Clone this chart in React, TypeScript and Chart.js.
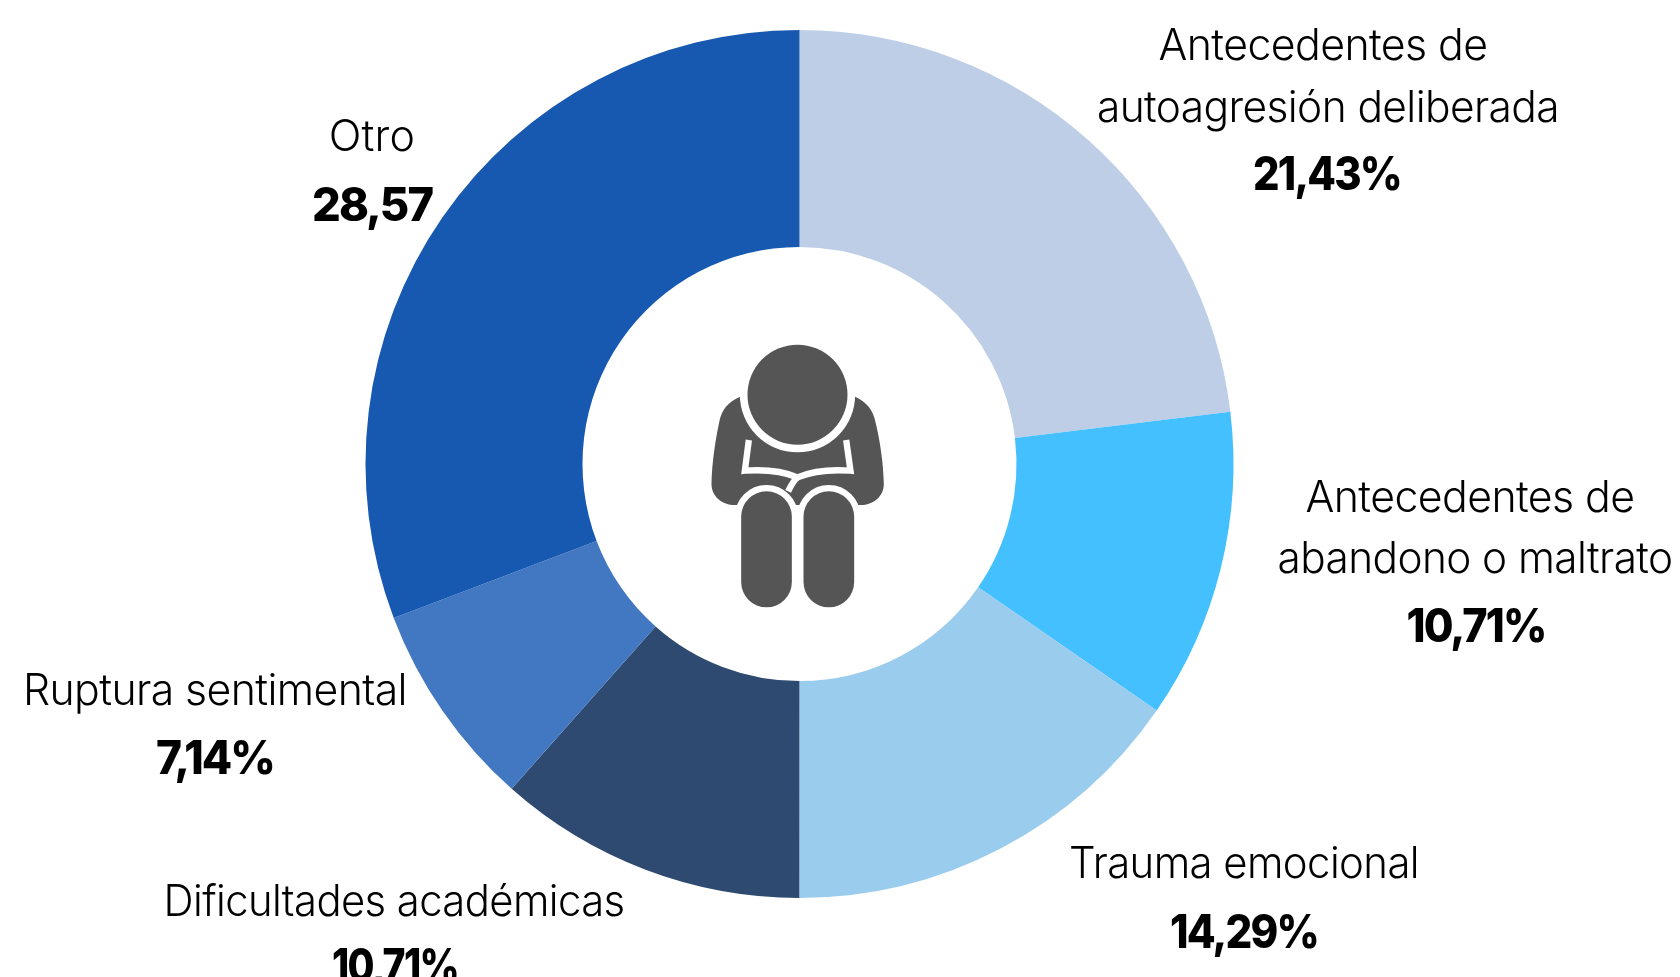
import React, { useEffect, useRef } from "react";
import { Chart, registerables } from "chart.js";

Chart.register(...registerables);

const categories = [
  "Antecedentes de autoagresión deliberada",
  "Antecedentes de abandono o maltrato",
  "Trauma emocional",
  "Dificultades académicas",
  "Ruptura sentimental",
  "Otro",
];
const values = [21.43, 10.71, 14.29, 10.71, 7.14, 28.57];
const valueLabels = ["21,43%", "10,71%", "14,29%", "10,71%", "7,14%", "28,57"];
const colors = ["#BDCEE6", "#45C0FF", "#9ACCEE", "#2F4A70", "#4277C2", "#1758B0"];

// label layout: [text, centre x, baseline y, bold, max width]
const labelLayout: [string, number, number, boolean, number][] = [
  ["Antecedentes de", 1323, 60, false, 329],
  ["autoagresión deliberada", 1328, 122, false, 462],
  [valueLabels[0], 1327, 190, true, 148],
  ["Antecedentes de", 1470, 512, false, 329],
  ["abandono o maltrato", 1475, 573, false, 395],
  [valueLabels[1], 1476, 642, true, 139],
  ["Trauma emocional", 1244, 878, false, 350],
  [valueLabels[2], 1244, 948, true, 148],
  ["Dificultades académicas", 394, 916, false, 461],
  [valueLabels[3], 395, 982, true, 126],
  ["Ruptura sentimental", 215, 705, false, 384],
  [valueLabels[4], 215, 774, true, 118],
  ["Otro", 372, 151, false, 90],
  [valueLabels[5], 372, 221, true, 120],
];

const textPlugin = {
  id: "labels",
  afterDraw(chart: any) {
    const ctx = chart.ctx;
    ctx.save();
    ctx.textAlign = "center";
    ctx.textBaseline = "alphabetic";
    ctx.fillStyle = "#000";
    for (const [t, x, y, bold, w] of labelLayout) {
      ctx.font = bold ? "800 46px Inter" : "300 43px Inter";
      ctx.letterSpacing = bold ? "-2px" : t === "Otro" ? "0.2px" : "-0.6px";
      ctx.fillText(t, x, y, w);
    }
    ctx.restore();
  },
};

const iconPlugin = {
  id: "icon",
  afterDraw(chart: any) {
    const ctx = chart.ctx;
    const a = chart.getDatasetMeta(0).data[0];
    ctx.save();
    // icon artwork is authored in a 3x local space
    ctx.translate(a.x - 412 / 3 - 2, a.y - 464 + 320.7);
    ctx.scale(1 / 3, 1 / 3);
    const grey = "#555555";
    ctx.fillStyle = grey;
    ctx.fill(new Path2D("M240 228C200 245 185 270 178 300C165 360 155 430 154 490C154 530 190 555 228 553L598 553C635 555 671 530 671 490C670 430 660 360 645 300C638 270 622 245 585 228Z"));
    ctx.fillStyle = "#fff";
    ctx.beginPath();
    ctx.arc(412, 222, 173, 0, Math.PI * 2);
    ctx.fill();
    ctx.fillStyle = "#fff";
    ctx.fill(new Path2D("M240 130H585V228H240Z"));
    ctx.fillStyle = grey;
    ctx.beginPath();
    ctx.arc(412, 222, 150, 0, Math.PI * 2);
    ctx.fill();
    ctx.strokeStyle = "#fff";
    ctx.lineWidth = 19;
    ctx.lineJoin = "miter";
    ctx.stroke(new Path2D("M266 358L254 450C310 446 360 448 412 470C465 448 515 446 571 450L558 358"));
    ctx.stroke(new Path2D("M412 470C400 480 392 495 384 512"));
    const leg = (x: number) => {
      ctx.beginPath();
      ctx.roundRect(x, 512, 152, 348, 76);
      ctx.lineWidth = 38;
      ctx.strokeStyle = "#fff";
      ctx.stroke();
      ctx.fillStyle = grey;
      ctx.fill();
    };
    leg(243);
    leg(430);
    ctx.restore();
  },
};

export default function App() {
  const ref = useRef<HTMLCanvasElement>(null);
  useEffect(() => {
    document.body.style.margin = "0";
    const chart = new Chart(ref.current!, {
      type: "doughnut",
      data: {
        labels: categories,
        datasets: [{ data: values, backgroundColor: colors, borderWidth: 0 }],
      },
      options: {
        animation: false,
        responsive: false,
        cutout: "50%",
        layout: { padding: { left: 365, right: 446, top: 30, bottom: 79 } },
        plugins: { legend: { display: false }, tooltip: { enabled: false } },
      },
      plugins: [iconPlugin, textPlugin],
    });
    return () => chart.destroy();
  }, []);
  return <canvas ref={ref} width={1680} height={977} style={{ display: "block" }} />;
}
